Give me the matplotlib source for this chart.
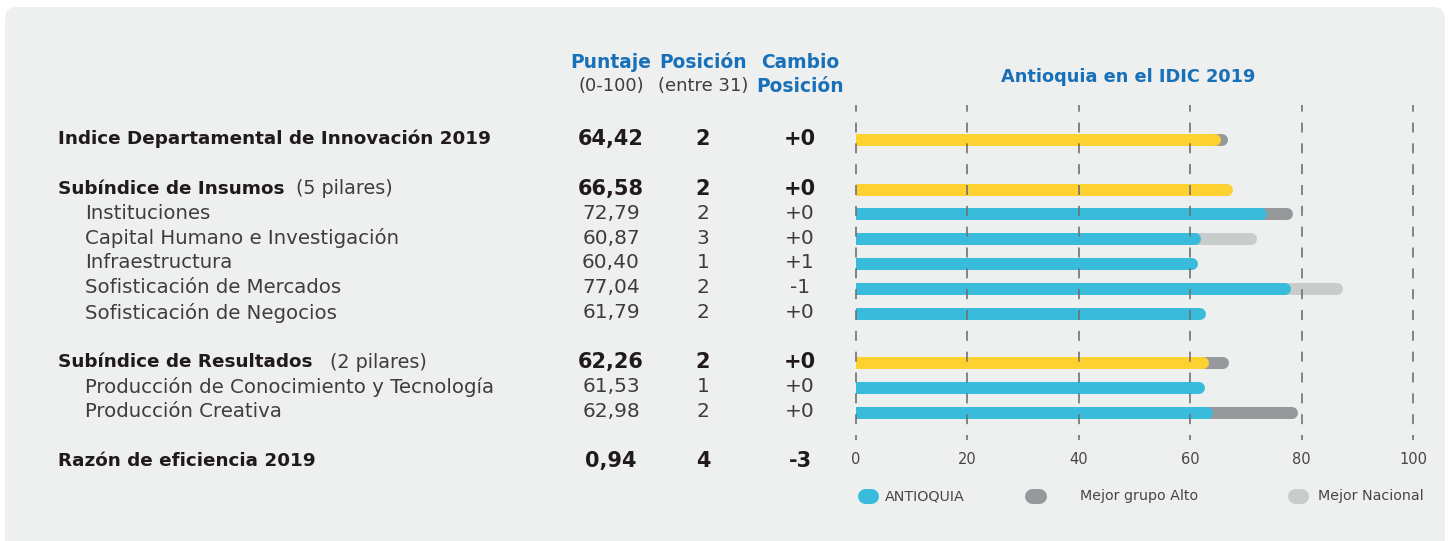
import matplotlib
matplotlib.use("Agg")
import matplotlib.pyplot as plt
from matplotlib.patches import FancyBboxPatch
from matplotlib.lines import Line2D
from matplotlib.transforms import IdentityTransform, blended_transform_factory

# ---------------- data ----------------
labels = ["Indice Departamental de Innovación 2019", "Subíndice de Insumos", "Instituciones",
          "Capital Humano e Investigación", "Infraestructura", "Sofisticación de Mercados",
          "Sofisticación de Negocios", "Subíndice de Resultados",
          "Producción de Conocimiento y Tecnología", "Producción Creativa",
          "Razón de eficiencia 2019"]
label_suffix = ["", "(5 pilares)", "", "", "", "", "", "(2 pilares)", "", "", ""]
rows = [0, 2, 3, 4, 5, 6, 7, 9, 10, 11, 13]
is_main = [True, True, False, False, False, False, False, True, False, False, True]
puntaje = ["64,42", "66,58", "72,79", "60,87", "60,40", "77,04", "61,79", "62,26", "61,53", "62,98", "0,94"]
posicion = ["2", "2", "2", "3", "1", "2", "2", "2", "1", "2", "4"]
cambio = ["+0", "+0", "+0", "+0", "+1", "-1", "+0", "+0", "+0", "+0", "-3"]
antioquia = [64.42, 66.58, 72.79, 60.87, 60.40, 77.04, 61.79, 62.26, 61.53, 62.98, None]
mejor_alto = [65.7, None, 77.4, None, None, None, None, 65.8, None, 78.2, None]
mejor_nacional = [None, None, None, 71.0, None, 86.3, None, None, None, None, None]
xticks = [0, 20, 40, 60, 80, 100]
legend_labels = ["ANTIOQUIA", "Mejor grupo Alto", "Mejor Nacional"]

# ---------------- style ----------------
W, H, DPI = 1452, 541, 100
BG = "#eef0ef"
BLUE_T = "#1870b8"
YELLOW = "#fdd12f"
CYAN = "#39bcdc"
GRAY = "#97989b"
LGRAY = "#c8cccd"
DARK = "#211a1c"
REG = "#413b3c"
FONT = "DejaVu Sans"

fig = plt.figure(figsize=(W / DPI, H / DPI), dpi=DPI)
fig.patch.set_facecolor("white")
fig.patches.append(FancyBboxPatch((5, -20), 1440, H - 7 + 20,
                                  boxstyle="round,pad=0,rounding_size=12",
                                  transform=IdentityTransform(), facecolor=BG,
                                  edgecolor="none", zorder=-10))

def fx(p):
    return p / W

def fy(p):
    return 1 - p / H

# axes for bars: pixel x 856..1413, y 105..440
ax = fig.add_axes([fx(856), fy(440), 557 / W, 335 / H])
ax.set_zorder(1)
ax.set_facecolor("none")
row0, rstep = 139.0, 24.8
ax.set_ylim((440 - row0) / rstep, (105 - row0) / rstep)
ax.set_xlim(0, 100)
for s in ax.spines.values():
    s.set_visible(False)
ax.set_yticks([])
ax.set_xticks(xticks)
ax.set_xticklabels([str(t) for t in xticks], fontsize=10.5, color="#4a4446", family=FONT)
ax.tick_params(axis="x", length=0, pad=9)

bar_lw = 12 * 72 / DPI
bar_shift = 1.0 / rstep  # bars sit ~1px below the text baseline centre
for i, r in enumerate(rows):
    col = YELLOW if is_main[i] else CYAN
    yb = r + bar_shift
    if mejor_nacional[i] is not None:
        ax.plot([0, mejor_nacional[i]], [yb, yb], color=LGRAY, lw=bar_lw,
                solid_capstyle="round", zorder=2)
    if mejor_alto[i] is not None:
        ax.plot([0, mejor_alto[i]], [yb, yb], color=GRAY, lw=bar_lw,
                solid_capstyle="round", zorder=2)
    if antioquia[i] is not None:
        ax.plot([0, antioquia[i]], [yb, yb], color=col, lw=bar_lw,
                solid_capstyle="round", zorder=3)

for t in xticks:
    ax.axvline(t, color="#707173", lw=1.2, linestyle=(3, (6.0, 6.5)),
               zorder=4, clip_on=False)

# ---------------- table text ----------------
tr = blended_transform_factory(fig.transFigure, ax.transData)
main_texts = {}
for i, r in enumerate(rows):
    if is_main[i]:
        t = fig.text(fx(58), r, labels[i], transform=tr, ha="left", va="center",
                     fontsize=13.2, fontweight="bold", color=DARK, family=FONT)
        main_texts[i] = t
        w, c, fs = "heavy", DARK, 15
    else:
        fig.text(fx(85), r, labels[i], transform=tr, ha="left", va="center",
                 fontsize=14.2, color=REG, family=FONT)
        w, c, fs = "normal", REG, 14.5
    for xp, val in ((611, puntaje[i]), (703, posicion[i]), (800, cambio[i])):
        fig.text(fx(xp), r, val, transform=tr, ha="center", va="center",
                 fontsize=fs, fontweight=w, color=c, family=FONT)

fig.canvas.draw()
renderer = fig.canvas.get_renderer()
gaps = {1: 11, 7: 17}
for i, t in main_texts.items():
    if label_suffix[i]:
        bb = t.get_window_extent(renderer=renderer)
        fig.text((bb.x1 + gaps.get(i, 10)) / W, rows[i], label_suffix[i], transform=tr,
                 ha="left", va="center", fontsize=13.8, color=REG, family=FONT)

# headers
hdr = [(611, "Puntaje", "(0-100)", False), (703, "Posición", "(entre 31)", False),
       (800, "Cambio", "Posición", True)]
for xp, top, bot, bot_bold in hdr:
    fig.text(fx(xp), fy(62), top, ha="center", va="center", fontsize=13.4,
             fontweight="bold", color=BLUE_T, family=FONT)
    fig.text(fx(xp), fy(86), bot, ha="center", va="center", fontsize=13.4 if bot_bold else 13,
             fontweight="bold" if bot_bold else "normal",
             color=BLUE_T if bot_bold else REG, family=FONT)

fig.text(fx(1128), fy(77), "Antioquia en el IDIC 2019", ha="center", va="center",
         fontsize=12.8, fontweight="bold", color=BLUE_T, family=FONT)

# ---------------- legend ----------------
leg_items = [(857, 878, 885, CYAN), (1024, 1046, 1080, GRAY), (1287, 1308, 1318, LGRAY)]
ly = H - 496
for (x0, x1, xt, c), lab in zip(leg_items, legend_labels):
    pill_h = 15
    fig.add_artist(Line2D([x0 + pill_h / 2, x1 - pill_h / 2], [ly, ly],
                          transform=IdentityTransform(), color=c,
                          lw=pill_h * 72 / DPI, solid_capstyle="round"))
    fig.text(fx(xt), fy(496), lab, ha="left", va="center", fontsize=10.3,
             color="#4a4446", family=FONT)

fig.savefig("out.png", dpi=DPI, facecolor=fig.get_facecolor())
